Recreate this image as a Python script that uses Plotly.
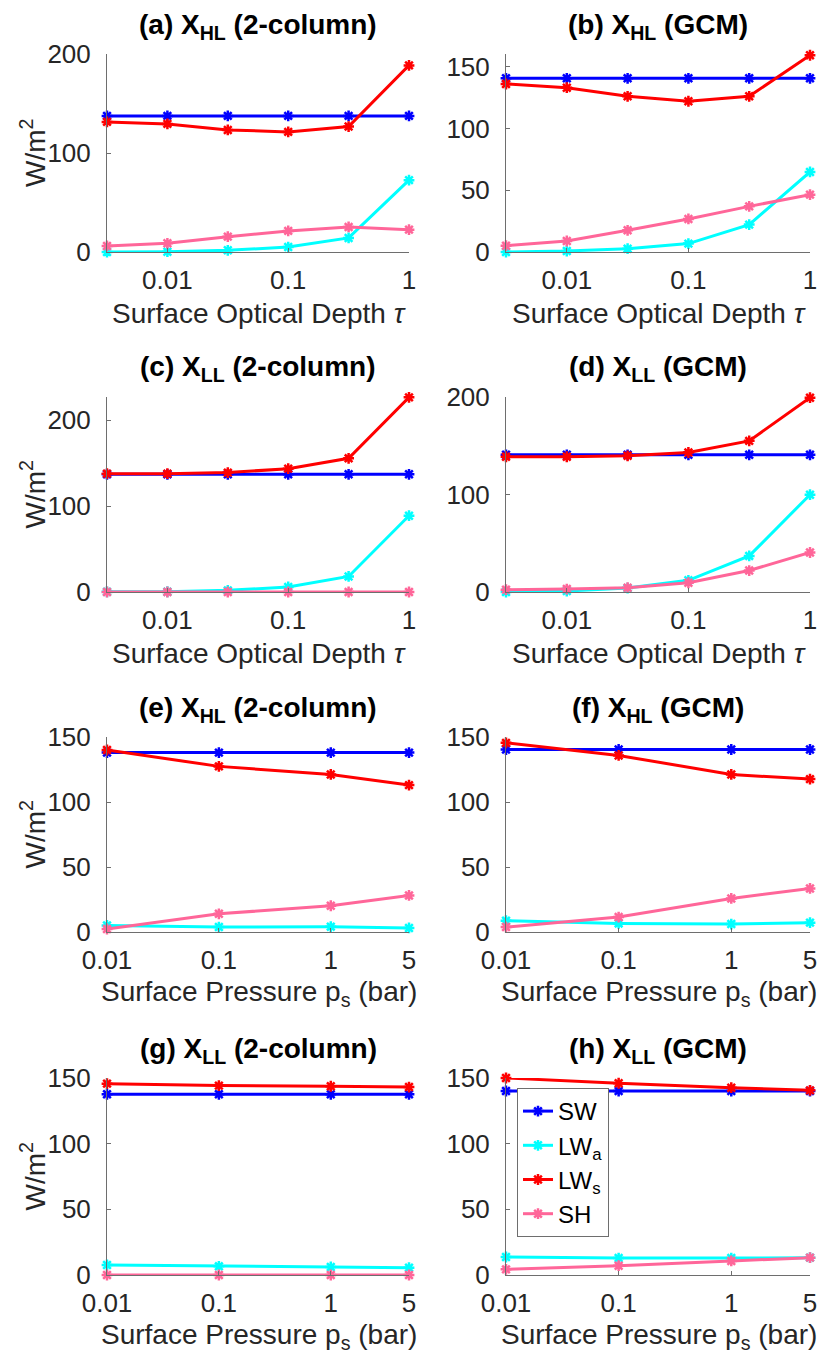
import plotly.graph_objects as go
import numpy as np

# ---------------- data ----------------
tau = [10**-2.5, 0.01, 10**-1.5, 0.1, 10**-0.5, 1.0]
ps = [0.01, 0.1, 1.0, 5.0]

series_names = ["SW", "LW<sub>a</sub>", "LW<sub>s</sub>", "SH"]
series_colors = ["#0000FF", "#00FFFF", "#FF0000", "#FF6699"]

# (a) X_HL 2-column vs tau
a_SW = [137.5, 137.5, 137.5, 137.5, 137.5, 137.5]
a_LWa = [0.0, 0.3, 1.7, 5.0, 14.2, 72.6]
a_LWs = [131.4, 129.4, 123.3, 121.3, 126.7, 188.5]
a_SH = [6.1, 8.8, 15.5, 21.3, 25.3, 22.6]

# (b) X_HL GCM vs tau
b_SW = [140.8, 140.8, 140.8, 140.8, 140.8, 140.8]
b_LWa = [0.0, 0.8, 2.7, 6.8, 22.2, 64.9]
b_LWs = [136.2, 133.2, 126.2, 122.2, 126.2, 159.5]
b_SH = [5.1, 8.9, 17.6, 26.8, 37.0, 46.5]

# (c) X_LL 2-column vs tau
c_SW = [137.0, 137.0, 137.0, 137.0, 137.0, 137.0]
c_LWa = [0.2, 0.3, 1.9, 5.8, 18.1, 88.8]
c_LWs = [137.8, 137.8, 139.0, 143.6, 155.6, 226.6]
c_SH = [0.0, 0.0, 0.0, 0.0, 0.0, 0.0]

# (d) X_LL GCM vs tau
d_SW = [140.7, 140.7, 140.7, 140.7, 140.7, 140.7]
d_LWa = [0.0, 1.0, 4.0, 12.0, 37.0, 99.8]
d_LWs = [138.7, 138.7, 139.7, 143.1, 155.0, 199.3]
d_SH = [2.4, 3.0, 4.4, 9.5, 22.0, 40.5]

# (e) X_HL 2-column vs ps
e_SW = [138.0, 138.0, 138.0, 138.0]
e_LWa = [5.0, 3.8, 4.1, 3.1]
e_LWs = [140.0, 127.4, 121.2, 113.0]
e_SH = [2.3, 14.0, 20.2, 28.1]

# (f) X_HL GCM vs ps
f_SW = [140.4, 140.4, 140.4, 140.4]
f_LWa = [8.7, 6.6, 6.1, 7.2]
f_LWs = [145.5, 135.8, 121.2, 117.6]
f_SH = [3.8, 11.5, 25.8, 33.5]

# (g) X_LL 2-column vs ps
g_SW = [137.6, 137.6, 137.6, 137.6]
g_LWa = [7.6, 6.6, 6.1, 5.6]
g_LWs = [145.7, 144.2, 143.7, 143.1]
g_SH = [0.0, 0.0, 0.0, 0.0]

# (h) X_LL GCM vs ps
h_SW = [140.1, 140.1, 140.1, 140.1]
h_LWa = [13.7, 12.9, 12.9, 13.2]
h_LWs = [150.0, 146.0, 142.6, 140.6]
h_SH = [4.3, 7.1, 10.7, 13.2]

panel_titles = [
    "(a) X<sub>HL</sub> (2-column)", "(b) X<sub>HL</sub> (GCM)",
    "(c) X<sub>LL</sub> (2-column)", "(d) X<sub>LL</sub> (GCM)",
    "(e) X<sub>HL</sub> (2-column)", "(f) X<sub>HL</sub> (GCM)",
    "(g) X<sub>LL</sub> (2-column)", "(h) X<sub>LL</sub> (GCM)",
]
panel_data = [
    (tau, [a_SW, a_LWa, a_LWs, a_SH]),
    (tau, [b_SW, b_LWa, b_LWs, b_SH]),
    (tau, [c_SW, c_LWa, c_LWs, c_SH]),
    (tau, [d_SW, d_LWa, d_LWs, d_SH]),
    (ps, [e_SW, e_LWa, e_LWs, e_SH]),
    (ps, [f_SW, f_LWa, f_LWs, f_SH]),
    (ps, [g_SW, g_LWa, g_LWs, g_SH]),
    (ps, [h_SW, h_LWa, h_LWs, h_SH]),
]
y_ranges = [[0, 200], [0, 160.5], [0, 227], [0, 200],
            [0, 150], [0, 150], [0, 150], [0, 150]]
y_ticks = [[0, 100, 200], [0, 50, 100, 150], [0, 100, 200], [0, 100, 200],
           [0, 50, 100, 150], [0, 50, 100, 150], [0, 50, 100, 150], [0, 50, 100, 150]]
tau_ticks = [0.01, 0.1, 1]
tau_ticktext = ["0.01", "0.1", "1"]
ps_ticks = [0.01, 0.1, 1, 5]
ps_ticktext = ["0.01", "0.1", "1", "5"]
xlabel_tau = "Surface Optical Depth <i>τ</i>"
xlabel_ps = "Surface Pressure p<sub>s</sub> (bar)"
ylabel = "W/m<sup>2</sup>"

# ---------------- layout geometry (pixels in the browser window) ----------------
W, H = 819, 1361
col_px = [(107, 409), (506, 810)]
row_px = [(54, 252), (397, 592), (737, 932), (1078, 1275)]


def px_x(x):
    return x / W


def px_y(y):
    return 1 - y / H


FONT = "Liberation Sans, Arial, Helvetica, sans-serif"
TXT = "#262626"
AXC = "#6e6e6e"
TICK_SIZE = 26
LABEL_SIZE = 28

fig = go.Figure()
annotations = []
for i in range(8):
    r, c = divmod(i, 2)
    xa = "x" if i == 0 else f"x{i+1}"
    ya = "y" if i == 0 else f"y{i+1}"
    x0, x1 = col_px[c]
    top, bot = row_px[r]
    xdom = [px_x(x0), px_x(x1)]
    ydom = [px_y(bot), px_y(top)]
    xs, ys_list = panel_data[i]
    for k, ys in enumerate(ys_list):
        fig.add_trace(go.Scatter(
            x=xs, y=ys, mode="lines+markers", name=series_names[k],
            line=dict(color=series_colors[k], width=3),
            marker=dict(symbol="asterisk-open", size=9,
                        line=dict(color=series_colors[k], width=2.5)),
            xaxis=xa, yaxis=ya, cliponaxis=False,
            showlegend=(i == 7), legendgroup=series_names[k],
        ))
    is_tau = r < 2
    if is_tau:
        xr = [-2.5, 0]
        tv, tt = tau_ticks, tau_ticktext
    else:
        xr = [-2, np.log10(5)]
        tv, tt = ps_ticks, ps_ticktext
    xkey = "xaxis" if i == 0 else f"xaxis{i+1}"
    ykey = "yaxis" if i == 0 else f"yaxis{i+1}"
    fig.layout[xkey] = dict(
        domain=xdom, anchor=ya, type="log", range=xr,
        tickvals=tv, ticktext=tt, showgrid=False, zeroline=False,
        showline=True, linecolor=AXC, linewidth=1,
        ticks="inside", ticklen=4, tickcolor=AXC,
        tickfont=dict(family=FONT, size=TICK_SIZE, color=TXT),
        ticklabelstandoff=5, automargin=False, ticklabeloverflow="allow",
    )
    fig.layout[ykey] = dict(
        domain=ydom, anchor=xa, range=y_ranges[i], tickvals=y_ticks[i],
        showgrid=False, zeroline=False,
        showline=True, linecolor=AXC, linewidth=1,
        ticks="inside", ticklen=4, tickcolor=AXC,
        tickfont=dict(family=FONT, size=TICK_SIZE, color=TXT),
        ticklabelstandoff=10, automargin=False, ticklabeloverflow="allow",
    )
    cx = px_x((x0 + x1) / 2)
    # panel title
    annotations.append(dict(
        text="<b>" + panel_titles[i] + "</b>", x=cx, y=px_y(top - 28),
        xref="paper", yref="paper", xanchor="center", yanchor="middle",
        showarrow=False, font=dict(family=FONT, size=LABEL_SIZE, color="black"),
    ))
    # x label
    annotations.append(dict(
        text=xlabel_tau if is_tau else xlabel_ps, x=px_x((x0 + x1) / 2 + 1),
        y=px_y(bot + 61),
        xref="paper", yref="paper", xanchor="center", yanchor="middle",
        showarrow=False, font=dict(family=FONT, size=LABEL_SIZE, color=TXT),
    ))
    if c == 0:
        annotations.append(dict(
            text=ylabel, x=px_x(33), y=px_y((top + bot) / 2),
            xref="paper", yref="paper", xanchor="center", yanchor="middle",
            textangle=-90, showarrow=False,
            font=dict(family=FONT, size=LABEL_SIZE, color=TXT),
        ))

fig.update_layout(
    width=W, height=H, margin=dict(l=0, r=0, t=0, b=0, autoexpand=False),
    paper_bgcolor="white", plot_bgcolor="white",
    annotations=annotations,
    legend=dict(
        x=px_x(517), y=px_y(1088), xanchor="left", yanchor="top",
        bordercolor=AXC, borderwidth=1, bgcolor="white",
        font=dict(family=FONT, size=24, color="black"),
        tracegroupgap=0,
    ),
)

fig.write_html(
    "out.html",
    config={"displayModeBar": False},
    post_script="document.body.style.margin='0';document.body.style.overflow='hidden';",
)
